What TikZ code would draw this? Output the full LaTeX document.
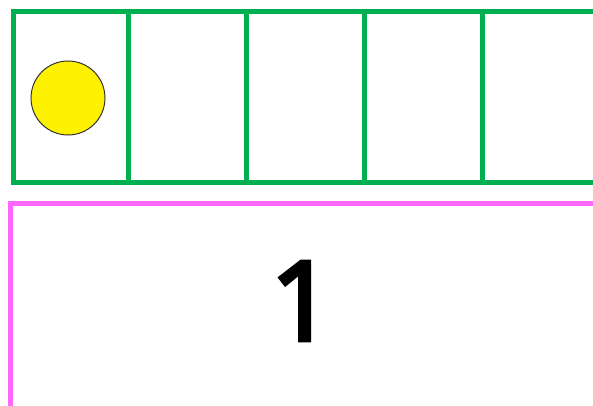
\documentclass[tikz,border=0pt]{standalone}
\usepackage{fontspec}
\newfontfamily\digitfont[FakeBold=4]{Open Sans}
\definecolor{framegreen}{HTML}{00B050}
\definecolor{boxpink}{HTML}{FF66FF}
\begin{document}
\begin{tikzpicture}[x=1pt,y=-1pt,
  framecell/.style={draw=framegreen,line width=5pt},
  counter/.style={circle,draw=black!80,line width=1pt,fill=yellow,minimum size=74pt,inner sep=0pt},
  numbox/.style={draw=boxpink,line width=5pt}]
\useasboundingbox (0,0) rectangle (593,406);
\fill[white] (0,0) rectangle (593,406);
% ten-frame
\foreach \i/\a/\b in {0/13/128,1/128/246,2/246/364,3/364/482,4/482/600}{
  \draw[framecell] (\a,11.5) rectangle (\b,182);
}
\node[counter] (dot) at (68,98) {};
% number box
\draw[numbox] (10,203.5) rectangle (610,420);
\node[font=\digitfont\fontsize{110}{110}\selectfont,inner sep=0pt] (num) at (302,301) {1};
\end{tikzpicture}
\end{document}
